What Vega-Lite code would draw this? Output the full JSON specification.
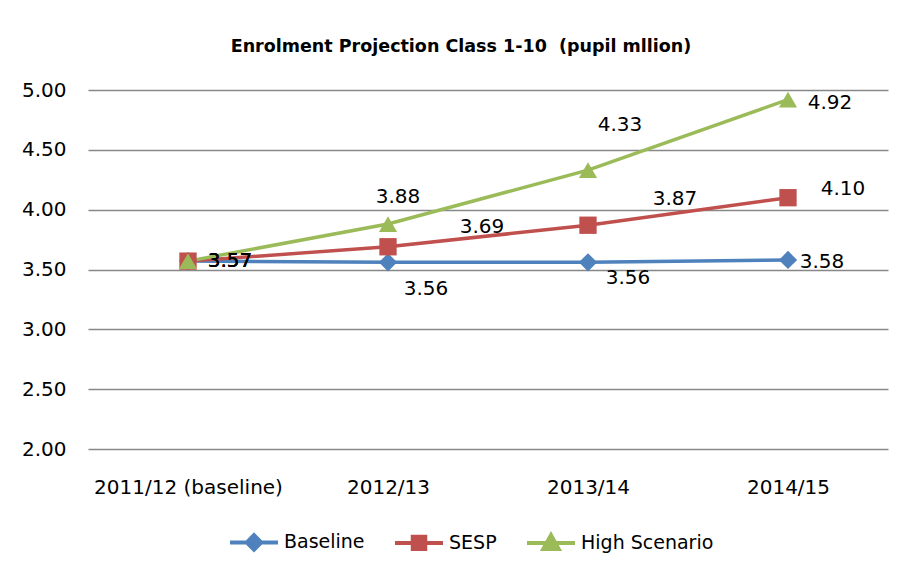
{
  "$schema": "https://vega.github.io/schema/vega-lite/v6.json",
  "width": 800,
  "height": 359,
  "autosize": {"type": "none"},
  "padding": {"left": 88, "top": 90, "right": 16, "bottom": 130},
  "background": "white",
  "title": {
    "text": "Enrolment Projection Class 1-10\u00a0 (pupil mllion)",
    "font": "DejaVu Sans",
    "fontSize": 17.5,
    "fontWeight": "bold",
    "color": "black",
    "anchor": "middle",
    "frame": "group",
    "baseline": "alphabetic",
    "offset": 11,
    "dx": -27
  },
  "config": {
    "view": {"stroke": null},
    "font": "DejaVu Sans",
    "axis": {"labelFont": "DejaVu Sans", "labelColor": "black"},
    "legend": {"labelFont": "DejaVu Sans", "labelColor": "black"}
  },
  "data": {
    "values": [
      {"year": "2011/12 (baseline)", "series": "Baseline", "value": 3.57},
      {"year": "2012/13", "series": "Baseline", "value": 3.56},
      {"year": "2013/14", "series": "Baseline", "value": 3.56},
      {"year": "2014/15", "series": "Baseline", "value": 3.58},
      {"year": "2011/12 (baseline)", "series": "SESP", "value": 3.57},
      {"year": "2012/13", "series": "SESP", "value": 3.69},
      {"year": "2013/14", "series": "SESP", "value": 3.87},
      {"year": "2014/15", "series": "SESP", "value": 4.10},
      {"year": "2011/12 (baseline)", "series": "High Scenario", "value": 3.57},
      {"year": "2012/13", "series": "High Scenario", "value": 3.88},
      {"year": "2013/14", "series": "High Scenario", "value": 4.33},
      {"year": "2014/15", "series": "High Scenario", "value": 4.92}
    ]
  },
  "encoding": {
    "x": {
      "field": "year",
      "type": "ordinal",
      "scale": {"type": "point", "padding": 0.5, "domain": ["2011/12 (baseline)", "2012/13", "2013/14", "2014/15"]},
      "axis": {"title": null, "labelAngle": 0, "ticks": false, "domain": false, "grid": false, "labelFontSize": 20, "labelPadding": 28, "labelLimit": 0}
    },
    "y": {
      "field": "value",
      "type": "quantitative",
      "scale": {"domain": [2, 5], "nice": false, "zero": false},
      "axis": {"title": null, "values": [2, 2.5, 3, 3.5, 4, 4.5, 5], "format": ".2f", "ticks": false, "domain": false, "grid": true, "gridColor": "#888888", "gridWidth": 1.3, "labelFontSize": 20, "labelPadding": 22}
    }
  },
  "layer": [
    {
      "mark": {"type": "line", "strokeWidth": 3.5},
      "encoding": {
        "color": {
          "field": "series", "type": "nominal",
          "scale": {"domain": ["Baseline", "SESP", "High Scenario"], "range": ["#4F81BD", "#C0504D", "#9BBB59"]},
          "legend": {
            "title": null,
            "orient": "none",
            "direction": "horizontal",
            "legendX": 140,
            "legendY": 426,
            "labelFontSize": 19,
            "labelOffset": 4,
            "columnPadding": 22,
            "symbolSize": 2304,
            "symbolOpacity": 1,
            "encode": {
              "symbols": {
                "update": {
                  "shape": {"signal": "datum.value === 'Baseline' ? 'M-1,0L1,0M0,-0.3L0.3,0L0,0.3L-0.3,0Z' : datum.value === 'SESP' ? 'M-1,0L1,0M-0.26,-0.26H0.26V0.26H-0.26Z' : 'M-1,0L1,0M0,-0.32L0.32,0.26H-0.32Z'"},
                  "stroke": {"signal": "scale('color', datum.value)"},
                  "fill": {"signal": "scale('color', datum.value)"},
                  "strokeWidth": {"value": 4},
                  "size": {"value": 2304}
                }
              }
            }
          }
        }
      }
    },
    {
      "transform": [{"filter": "datum.series === 'Baseline'"}],
      "mark": {"type": "point", "filled": true, "opacity": 1, "size": 330, "shape": "diamond", "color": "#4F81BD"}
    },
    {
      "transform": [{"filter": "datum.series === 'SESP'"}],
      "mark": {"type": "point", "filled": true, "opacity": 1, "size": 300, "shape": "square", "color": "#C0504D"}
    },
    {
      "transform": [{"filter": "datum.series === 'High Scenario'"}],
      "mark": {"type": "point", "filled": true, "opacity": 1, "size": 330, "shape": "triangle-up", "color": "#9BBB59"}
    },
    {
      "transform": [{"filter": "datum.year === '2011/12 (baseline)'"}],
      "mark": {"type": "text", "dx": 42, "dy": 0, "fontSize": 20, "baseline": "middle", "color": "black"},
      "encoding": {"text": {"field": "value", "type": "quantitative", "format": ".2f"}}
    },
    {
      "transform": [{"filter": "datum.series === 'Baseline' && datum.year === '2012/13'"}],
      "mark": {"type": "text", "dx": 38, "dy": 27, "fontSize": 20, "baseline": "middle", "color": "black"},
      "encoding": {"text": {"field": "value", "type": "quantitative", "format": ".2f"}}
    },
    {
      "transform": [{"filter": "datum.series === 'Baseline' && datum.year === '2013/14'"}],
      "mark": {"type": "text", "dx": 40, "dy": 16, "fontSize": 20, "baseline": "middle", "color": "black"},
      "encoding": {"text": {"field": "value", "type": "quantitative", "format": ".2f"}}
    },
    {
      "transform": [{"filter": "datum.series === 'Baseline' && datum.year === '2014/15'"}],
      "mark": {"type": "text", "dx": 34, "dy": 2, "fontSize": 20, "baseline": "middle", "color": "black"},
      "encoding": {"text": {"field": "value", "type": "quantitative", "format": ".2f"}}
    },
    {
      "transform": [{"filter": "datum.series === 'SESP' && datum.year === '2012/13'"}],
      "mark": {"type": "text", "dx": 94, "dy": -20, "fontSize": 20, "baseline": "middle", "color": "black"},
      "encoding": {"text": {"field": "value", "type": "quantitative", "format": ".2f"}}
    },
    {
      "transform": [{"filter": "datum.series === 'SESP' && datum.year === '2013/14'"}],
      "mark": {"type": "text", "dx": 87, "dy": -26, "fontSize": 20, "baseline": "middle", "color": "black"},
      "encoding": {"text": {"field": "value", "type": "quantitative", "format": ".2f"}}
    },
    {
      "transform": [{"filter": "datum.series === 'SESP' && datum.year === '2014/15'"}],
      "mark": {"type": "text", "dx": 55, "dy": -9, "fontSize": 20, "baseline": "middle", "color": "black"},
      "encoding": {"text": {"field": "value", "type": "quantitative", "format": ".2f"}}
    },
    {
      "transform": [{"filter": "datum.series === 'High Scenario' && datum.year === '2012/13'"}],
      "mark": {"type": "text", "dx": 10, "dy": -27, "fontSize": 20, "baseline": "middle", "color": "black"},
      "encoding": {"text": {"field": "value", "type": "quantitative", "format": ".2f"}}
    },
    {
      "transform": [{"filter": "datum.series === 'High Scenario' && datum.year === '2013/14'"}],
      "mark": {"type": "text", "dx": 32, "dy": -45, "fontSize": 20, "baseline": "middle", "color": "black"},
      "encoding": {"text": {"field": "value", "type": "quantitative", "format": ".2f"}}
    },
    {
      "transform": [{"filter": "datum.series === 'High Scenario' && datum.year === '2014/15'"}],
      "mark": {"type": "text", "dx": 42, "dy": 3, "fontSize": 20, "baseline": "middle", "color": "black"},
      "encoding": {"text": {"field": "value", "type": "quantitative", "format": ".2f"}}
    }
  ]
}
